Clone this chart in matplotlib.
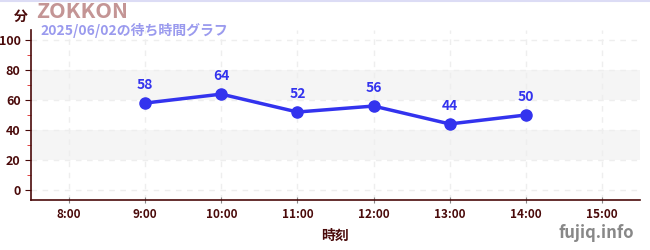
import matplotlib
matplotlib.use("Agg")
import matplotlib.pyplot as plt
from matplotlib.ticker import MultipleLocator

plt.rcParams['font.family'] = ['Noto Sans CJK JP', 'DejaVu Sans']

hours = [9, 10, 11, 12, 13, 14]
waits = [58, 64, 52, 56, 44, 50]
xticks = [8, 9, 10, 11, 12, 13, 14, 15]
xlabels = ["8:00", "9:00", "10:00", "11:00", "12:00", "13:00", "14:00", "15:00"]
yticks = [0, 20, 40, 60, 80, 100]

axis_col = "#4a0a0a"
line_col = "#3333ee"

fig = plt.figure(figsize=(6.5, 2.5), dpi=100)
ax = fig.add_axes([31/650, 50/250, 609/650, 170/250])

# alternating bands
for lo, hi in [(20, 40), (60, 80)]:
    ax.axhspan(lo, hi, color="#f5f5f5", zorder=0, lw=0)

ax.plot(hours, waits, color=line_col, lw=2.5, marker="o", ms=8, zorder=3)
for h, w in zip(hours, waits):
    ax.annotate(str(w), (h, w), xytext=(0, 8), textcoords="offset points",
                ha="center", va="bottom", color=line_col, fontsize=10, fontweight="bold")

ax.set_xlim(7.5, 15.5)
ax.set_ylim(-7, 107)
ax.set_xticks(xticks)
ax.set_xticklabels(xlabels)
ax.set_yticks(yticks)
ax.yaxis.set_minor_locator(MultipleLocator(10))
ax.grid(True, which="major", color="#eeeeee", ls=(0, (4, 4)), lw=1)

for s in ["top", "right"]:
    ax.spines[s].set_visible(False)
for s in ["left", "bottom"]:
    ax.spines[s].set_color(axis_col)
    ax.spines[s].set_linewidth(1.2)

ax.tick_params(axis="y", which="major", colors=axis_col, length=4, labelsize=9)
ax.tick_params(axis="y", which="minor", color="#dd2222", length=3)
ax.tick_params(axis="x", which="major", color="#888888", labelcolor=axis_col,
               length=4, direction="inout", labelsize=8.5)
for lab in ax.get_xticklabels() + ax.get_yticklabels():
    lab.set_fontweight("bold")

ax.set_xlabel("時刻", color=axis_col, fontsize=10, fontweight="bold", labelpad=6)

fig.text(14/650, 1 - 17/250, "分", color=axis_col, fontsize=10, fontweight="bold",
         ha="left", va="center")
fig.text(36/650, 1 - 12/250, "ZOKKON", color="#c49595", fontsize=15.5, fontweight="bold",
         ha="left", va="center")
fig.text(40/650, 1 - 31/250, "2025/06/02の待ち時間グラフ", color="#9a9aee", fontsize=10,
         fontweight="bold", ha="left", va="center")
fig.text(634/650, 1 - 233/250, "fujiq.info", color="#888888", fontsize=12,
         fontweight="bold", ha="right", va="center")

# thin top border
fig.add_artist(plt.Line2D([0, 1], [0.998, 0.998], color="#dcdcf5", lw=1.5))

fig.savefig("out.png", dpi=100)
